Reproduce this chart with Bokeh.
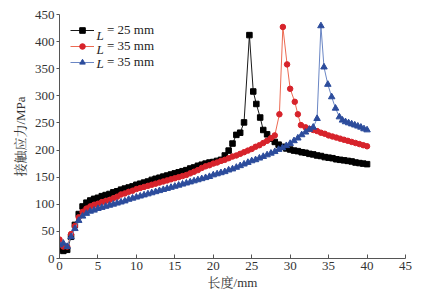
from bokeh.plotting import figure
from bokeh.models import Range1d, FixedTicker, Legend, LegendItem, Label
from bokeh.embed import file_html
from bokeh.resources import INLINE

label_var = "L"
labels = ["= 25 mm", "= 35 mm", "= 35 mm"]

black_x = [0,0.5,1,1.5,2,2.5,3,3.5,4,4.5,5,5.5,6,6.5,7,7.5,8,8.5,9,9.5,10,10.5,11,11.5,12,12.5,13,13.5,14,14.5,
           15,15.5,16,16.5,17,17.5,18,18.5,19,19.5,20,20.5,21,21.5,22,22.5,23,23.5,24,
           24.7,25.2,25.6,26.1,26.5,
           27,27.5,28,28.5,29,29.5,30,30.5,31,31.5,32,32.5,33,33.5,34,34.5,35,35.5,36,36.5,37,37.5,38,38.5,39,39.5,40]
black_y = [18,14,16,40,62,82,96,103,107,110,112,115,117,119,122,124,127,129,131,133,136,138,140,142,145,147,149,151,153,155,
           157,159,161,163,166,168,171,173,175,177,178,180,182,190,199,212,228,232,251,
           412,308,285,260,237,
           229,221,215,210,206,203,201,199,198,196,195,193,192,190,189,187,186,185,183,182,181,180,179,177,176,175,174]

red_x = [0,0.5,1,1.5,2,2.5,3,3.5,4,4.5,5,5.5,6,6.5,7,7.5,8,8.5,9,9.5,10,10.5,11,11.5,12,12.5,13,13.5,14,14.5,
         15,15.5,16,16.5,17,17.5,18,18.5,19,19.5,20,20.5,21,21.5,22,22.5,23,23.5,24,24.5,25,25.5,26,26.5,27,27.5,28,
         28.6,29.05,29.6,30.0,30.6,31.0,31.4,
         32,32.5,33,33.5,34,34.5,35,35.5,36,36.5,37,37.5,38,38.5,39,39.5,40]
red_y = [35,22,22,45,60,76,86,92,96,99,101,104,106,108,111,114,118,120,123,125,128,130,132,134,136,138,140,142,144,146,
         148,150,152,154,157,160,163,167,170,172,175,177,180,182,185,188,190,193,196,199,202,206,209,213,217,222,227,
         266,427,358,313,289,266,246,
         242,239,237,235,232,230,227,225,223,221,219,217,215,213,211,209,207]

blue_x = [0,0.5,1,1.5,2,2.5,3,3.5,4,4.5,5,5.5,6,6.5,7,7.5,8,8.5,9,9.5,10,10.5,11,11.5,12,12.5,13,13.5,14,14.5,
          15,15.5,16,16.5,17,17.5,18,18.5,19,19.5,20,20.5,21,21.5,22,22.5,23,23.5,24,24.5,25,25.5,26,26.5,27,27.5,
          28,28.5,29,29.5,30,30.5,31,31.5,32,32.5,33,33.5,
          34.0,34.4,34.9,35.4,35.9,36.4,
          36.8,37.2,37.6,38.0,38.4,38.8,39.2,39.6,40.0]
blue_y = [25,28,22,40,55,70,78,83,87,89,92,94,96,98,100,102,104,106,109,111,113,115,117,119,121,123,125,127,129,131,
          133,135,137,139,141,143,145,147,149,151,154,156,158,160,163,165,168,171,174,177,180,182,185,188,191,194,
          197,201,204,208,212,217,222,228,233,238,242,258,
          429,353,321,298,277,261,
          255,252,250,248,246,244,242,239,237]

x_ticks = [0, 5, 10, 15, 20, 25, 30, 35, 40, 45]
y_ticks = [0, 50, 100, 150, 200, 250, 300, 350, 400, 450]

SERIF = "Liberation Serif, Noto Serif CJK SC, Noto Sans CJK SC"

p = figure(width=430, height=299, output_backend="svg", toolbar_location=None,
           x_range=Range1d(0, 45), y_range=Range1d(0, 450),
           min_border_left=59, min_border_right=25, min_border_top=14, min_border_bottom=41)
p.outline_line_color = None
p.grid.visible = False
p.background_fill_color = "white"
p.border_fill_color = "white"

series = [
    (black_x, black_y, "#1a1a1a", "#000000", "square", 5.5),
    (red_x, red_y, "#ec6a52", "#d7232b", "circle", 5.5),
    (blue_x, blue_y, "#6a86c4", "#2c4c9c", "triangle", 6.5),
]
items = []
for (xs, ys, lc, mc, mk, sz), lab in zip(series, labels):
    r1 = p.line(xs, ys, line_color=lc, line_width=1)
    r2 = p.scatter(xs, ys, marker=mk, size=sz, fill_color=mc, line_color=mc)
    items.append(LegendItem(label=lab, renderers=[r1, r2]))

ROW_H = 14
LEG_TOP = 14  # px below top of frame
FRAME_H = 244
leg_h = 3 * ROW_H
leg = Legend(items=items, location=(11, FRAME_H - LEG_TOP - leg_h), orientation="vertical",
             padding=0, spacing=0, margin=0, glyph_width=24, glyph_height=ROW_H, label_height=ROW_H,
             label_standoff=13, label_text_font=SERIF, label_text_font_size="13px",
             label_text_color="#222222", background_fill_alpha=0, border_line_color=None)
p.add_layout(leg)

for i in range(3):
    cy = LEG_TOP + ROW_H * (i + 0.5)
    p.add_layout(Label(x=37, y=FRAME_H - cy, x_units="screen", y_units="screen", text=label_var,
                       text_font=SERIF, text_font_size="13px", text_font_style="italic",
                       text_color="#222222", text_baseline="middle", text_align="left"))

for ax in (p.xaxis[0], p.yaxis[0]):
    ax.axis_line_color = "#555555"
    ax.major_tick_line_color = "#555555"
    ax.minor_tick_line_color = None
    ax.major_label_text_font = SERIF
    ax.major_label_text_font_size = "13px"
    ax.major_label_text_color = "#333333"
    ax.axis_label_text_font = SERIF
    ax.axis_label_text_font_size = "13px"
    ax.axis_label_text_font_style = "normal"
    ax.axis_label_text_color = "#333333"

p.xaxis[0].ticker = FixedTicker(ticks=x_ticks)
p.yaxis[0].ticker = FixedTicker(ticks=y_ticks)
p.xaxis[0].major_tick_in = 4
p.xaxis[0].major_tick_out = 0
p.yaxis[0].major_tick_in = 0
p.yaxis[0].major_tick_out = 3
p.xaxis[0].major_label_standoff = 3
p.yaxis[0].major_label_standoff = 2
p.xaxis[0].axis_label = "长度/mm"
p.yaxis[0].axis_label = "接触应力/MPa"
p.xaxis[0].axis_label_standoff = 2
p.yaxis[0].axis_label_standoff = 4

open("out.html", "w").write(file_html(p, INLINE))
